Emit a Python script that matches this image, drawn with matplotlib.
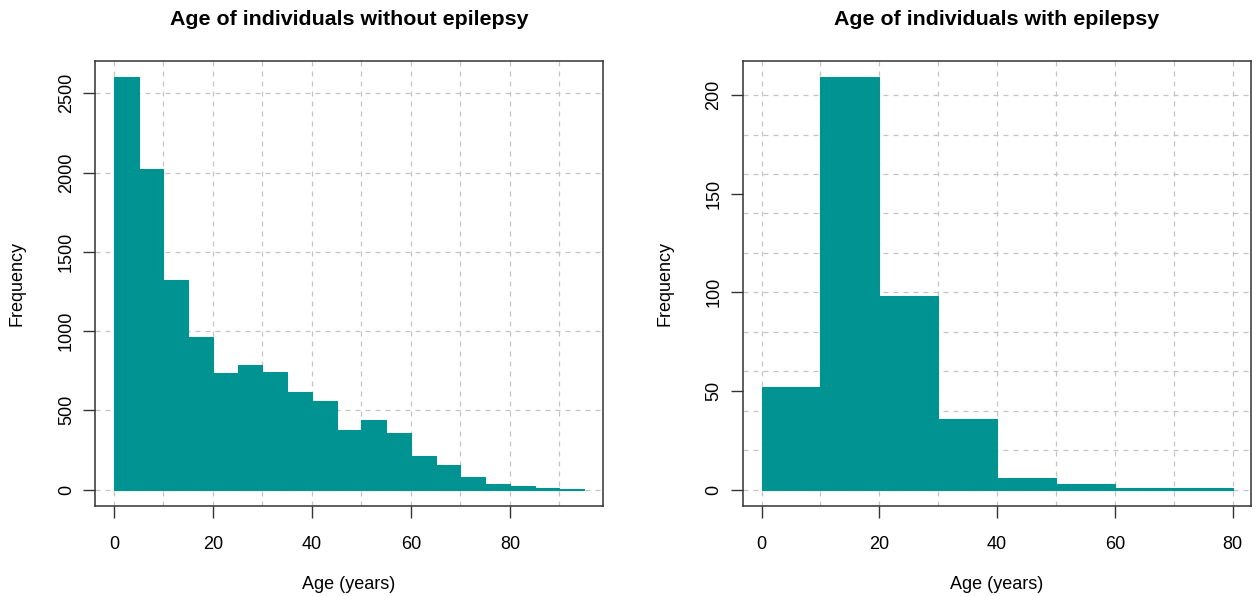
import numpy as np
import matplotlib
matplotlib.use("Agg")
import matplotlib.pyplot as plt
from matplotlib.ticker import MultipleLocator

plt.rcParams['font.family'] = ['Liberation Sans', 'DejaVu Sans']

# Age histograms (bin edges and counts)
edges_without = list(range(0, 100, 5))
counts_without = [2600, 2023, 1319, 962, 738, 784, 744, 615, 558, 378,
                  437, 355, 210, 155, 78, 35, 25, 8, 2]

edges_with = list(range(0, 90, 10))
counts_with = [52, 209, 98, 36, 6, 3, 1, 1]

BAR_COLOR = '#009391'
GRID_COLOR = '#c4c4c4'
FRAME_COLOR = '#333333'


def draw_hist(ax, edges, counts, title, x_major, x_grid, y_major, y_grid):
    """Base-R style histogram: boxed panel, dashed grid behind the bars."""
    ax.hist(edges[:-1], bins=edges, weights=counts, color=BAR_COLOR,
            edgecolor=BAR_COLOR, linewidth=0.8, zorder=2)

    # R extends the data range by 4% on each side
    xr = edges[-1] - edges[0]
    x0, x1 = edges[0] - 0.04 * xr, edges[-1] + 0.04 * xr
    yr = max(counts)
    y0, y1 = -0.04 * yr, yr * 1.04

    # dashed grid, finer than the tick marks
    for gx in np.arange(0, x1, x_grid):
        ax.axvline(gx, color=GRID_COLOR, linestyle=(0, (4, 4)),
                   linewidth=0.9, zorder=0)
    for gy in np.arange(0, y1, y_grid):
        ax.axhline(gy, color=GRID_COLOR, linestyle=(0, (4, 4)),
                   linewidth=0.9, zorder=0)

    ax.xaxis.set_major_locator(MultipleLocator(x_major))
    ax.yaxis.set_major_locator(MultipleLocator(y_major))
    ax.set_xlim(x0, x1)
    ax.set_ylim(y0, y1)
    ax.set_xticks([t for t in ax.get_xticks() if edges[0] <= t <= edges[-1]])
    ax.set_yticks([t for t in ax.get_yticks() if 0 <= t <= yr])
    ax.set_xlim(x0, x1)
    ax.set_ylim(y0, y1)

    ax.tick_params(which='major', direction='out', length=8.5, width=1,
                   color=FRAME_COLOR, labelsize=13)
    ax.tick_params(axis='x', which='major', pad=13)
    ax.tick_params(axis='y', which='major', pad=6)
    for lbl in ax.get_yticklabels():
        lbl.set_rotation(90)
        lbl.set_va('center')

    for s in ax.spines.values():
        s.set_color(FRAME_COLOR)
        s.set_linewidth(1.1)

    ax.set_xlabel('Age (years)', fontsize=13, labelpad=17)
    ax.set_ylabel('Frequency', fontsize=13, labelpad=23)
    ax.set_title(title, fontsize=15.4, fontweight='bold', pad=26)


fig = plt.figure(figsize=(12.57, 5.96), dpi=100)
ax1 = fig.add_axes([0.0756, 0.151, 0.4041, 0.7467])
ax2 = fig.add_axes([0.5909, 0.151, 0.4046, 0.7467])

draw_hist(ax1, edges_without, counts_without,
          'Age of individuals without epilepsy', 20, 10, 500, 500)
draw_hist(ax2, edges_with, counts_with,
          'Age of individuals with epilepsy', 20, 10, 50, 20)

fig.savefig('out.png', dpi=100)
